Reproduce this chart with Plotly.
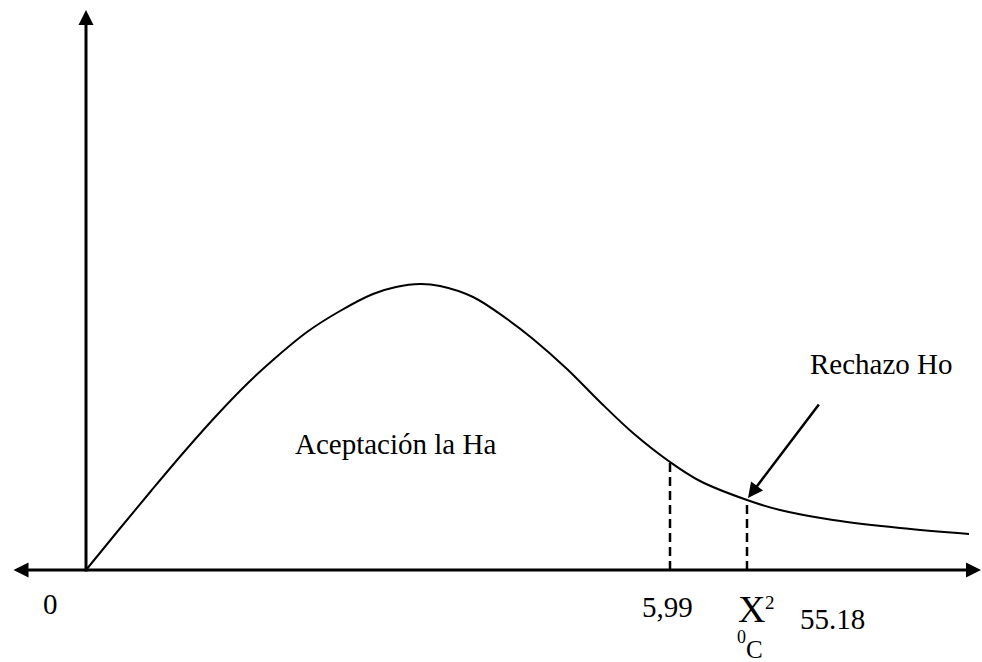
import plotly.graph_objects as go

# Curve (units: px offset from origin, y up)
curve_x = [0, 31, 65, 98, 131, 163, 187, 221, 254, 287, 310, 334, 354, 387, 421, 447, 481, 514, 547, 584, 614, 661, 694, 747, 814, 883]
curve_y = [0, 38, 79, 118, 155, 188, 210, 238, 259, 276, 283, 286, 284, 273, 251, 231, 201, 168, 137, 108, 89, 70, 60, 50, 42, 36]

# Critical value markers (dashed verticals)
crit_x = [584, 661]
crit_h = [108, 70]

# Axis extents
x_axis_ends = [-74, 895]
y_axis_ends = [-3, 560]

# Pointer arrow (tail -> tip)
pointer_tail = (734, 167)
pointer_tip = (662, 72)

FONT = "Liberation Serif"

fig = go.Figure()

fig.add_trace(go.Scatter(x=curve_x, y=curve_y, mode="lines",
                         line=dict(color="black", width=2, shape="spline", smoothing=1.0),
                         hoverinfo="skip", showlegend=False))

for cx, ch in zip(crit_x, crit_h):
    fig.add_trace(go.Scatter(x=[cx, cx], y=[0, ch], mode="lines",
                             line=dict(color="black", width=2.5, dash="9px,5px"),
                             hoverinfo="skip", showlegend=False))

annotations = []
annotations.append(dict(x=x_axis_ends[1], y=0, ax=x_axis_ends[0], ay=0, xref="x", yref="y",
                        axref="x", ayref="y", text="", showarrow=True, arrowhead=2, startarrowhead=2,
                        arrowside="end+start", arrowwidth=3, arrowsize=1, arrowcolor="black",
                        standoff=0, startstandoff=0))
annotations.append(dict(x=0, y=y_axis_ends[1], ax=0, ay=y_axis_ends[0], xref="x", yref="y",
                        axref="x", ayref="y", text="", showarrow=True, arrowhead=2,
                        arrowwidth=3, arrowsize=1, arrowcolor="black", standoff=0))
annotations.append(dict(x=pointer_tip[0], y=pointer_tip[1], ax=pointer_tail[0], ay=pointer_tail[1],
                        xref="x", yref="y", axref="x", ayref="y", text="", showarrow=True,
                        arrowhead=2, arrowwidth=2.5, arrowsize=1.2, arrowcolor="black", standoff=0))

texts = [
    ("0", -36, -34, 29),
    ("5,99", 581, -37, 29),
    ("55.18", 746, -49, 29),
    ("Aceptación la Ha", 309, 126, 29),
    ("Rechazo Ho", 795, 206, 29),
    ("X", 665, -39, 38),
    ("2", 684, -32, 19),
    ("0", 655, -67, 18),
    ("C", 668, -79, 25),
]
for t, tx, ty, fs in texts:
    annotations.append(dict(x=tx, y=ty, xref="x", yref="y", text=t, showarrow=False,
                            font=dict(family=FONT, size=fs, color="black"),
                            xanchor="center", yanchor="middle"))

fig.update_layout(
    width=982, height=662,
    margin=dict(l=0, r=0, t=0, b=0),
    paper_bgcolor="white", plot_bgcolor="white",
    font=dict(family=FONT),
    xaxis=dict(range=[-86, 896], visible=False, fixedrange=True),
    yaxis=dict(range=[-92, 570], visible=False, fixedrange=True),
    annotations=annotations,
    showlegend=False,
)

fig.write_html("out.html", config={"displayModeBar": False},
               post_script="document.body.style.margin='0';document.body.style.overflow='hidden';")
